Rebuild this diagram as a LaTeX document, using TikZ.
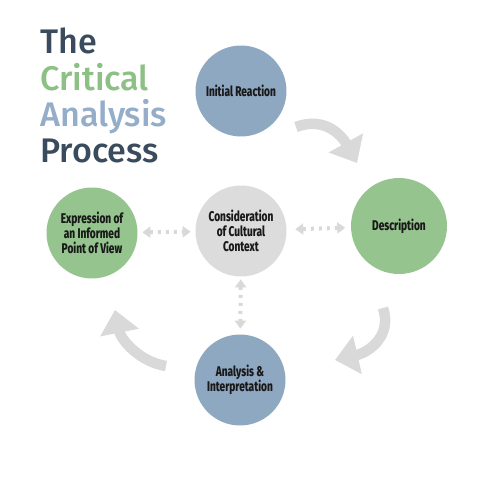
\documentclass[tikz,border=0pt]{standalone}
\usepackage{fontspec}
\usepackage{tikz}
\usetikzlibrary{positioning,arrows.meta}
\newfontfamily\titlefont{Fira Sans}[UprightFont=* Medium]
\newfontfamily\stagefont{Fira Sans}[UprightFont=* ExtraBold, FakeStretch=0.72]
\definecolor{inkdark}{HTML}{394B5C}
\definecolor{leafgreen}{HTML}{96C48F}
\definecolor{slateblue}{HTML}{8FA8C2}
\definecolor{titlegreen}{HTML}{8CC084}
\definecolor{titleblue}{HTML}{94ADC8}
\definecolor{softgray}{HTML}{DCDCDC}
\definecolor{linkgray}{HTML}{D9D9D9}
\tikzset{
  stage/.style   = {circle, minimum size=1.82cm, inner sep=0pt, align=center,
                    font=\stagefont\fontsize{8}{8.6}\selectfont, text=black!90},
  bluestage/.style  = {stage, fill=slateblue},
  greenstage/.style = {stage, fill=leafgreen},
  graystage/.style  = {stage, fill=softgray},
  titleline/.style  = {anchor=base west, inner sep=0pt,
                       font=\titlefont\fontsize{19.4}{19}\selectfont},
  cyclearrow/.style = {draw=linkgray, line width=0.21cm,
                       -{Triangle[length=0.46cm, width=0.76cm]}},
  dotlink/.style    = {draw=linkgray, line width=0.08cm, dash pattern=on 0.06cm off 0.1cm,
                       {Triangle[length=0.16cm, width=0.22cm, sep=0.03cm]}-{Triangle[length=0.16cm, width=0.22cm, sep=0.03cm]}},
}
\begin{document}
\begin{tikzpicture}[x=0.02cm, y=-0.02cm]
  \useasboundingbox[fill=white] (0,0) rectangle (480,480);

  % title
  \node[titleline, text=inkdark]    (tThe)      at (40,53)  {The};
  \node[titleline, text=titlegreen] (tCritical) at (40,90)  {Critical};
  \node[titleline, text=titleblue]  (tAnalysis) at (40,126) {Analysis};
  \node[titleline, text=inkdark]    (tProcess)  at (40,162) {Process};

  % stages
  \node[bluestage]  (initial)  at (241,91)  {Initial Reaction};
  \node[greenstage, minimum size=1.92cm] (descr) at (399,226) {Description};
  \node[graystage]  (context)  at (241,231) {Consideration\\of Cultural\\Context};
  \node[greenstage] (express)  at (92,233)  {Expression of\\an Informed\\Point of View};
  \node[bluestage]  (analysis) at (240,380) {Analysis \&\\Interpretation};

  % cycle arrows
  \coordinate (c1s) at (296,127); \coordinate (c1e) at (357,163);
  \coordinate (c2s) at (383,308); \coordinate (c2e) at (335,360);
  \coordinate (c3s) at (166,366); \coordinate (c3e) at (115,310);
  \draw[cyclearrow] (c1s) .. controls (325,116) and (342,136) .. (c1e);
  \draw[cyclearrow] (c2s) .. controls (392,335) and (370,352) .. (c2e);
  \draw[cyclearrow] (c3s) .. controls (140,362) and (121,340) .. (c3e);

  % links to the context
  \draw[dotlink, shorten <=0.06cm, shorten >=0.06cm] (express) -- (context);
  \draw[dotlink, shorten <=0.14cm, shorten >=0.08cm] (context) -- (descr);
  \draw[dotlink, shorten <=0.02cm, shorten >=0.08cm] (context) -- (analysis);
\end{tikzpicture}
\end{document}
